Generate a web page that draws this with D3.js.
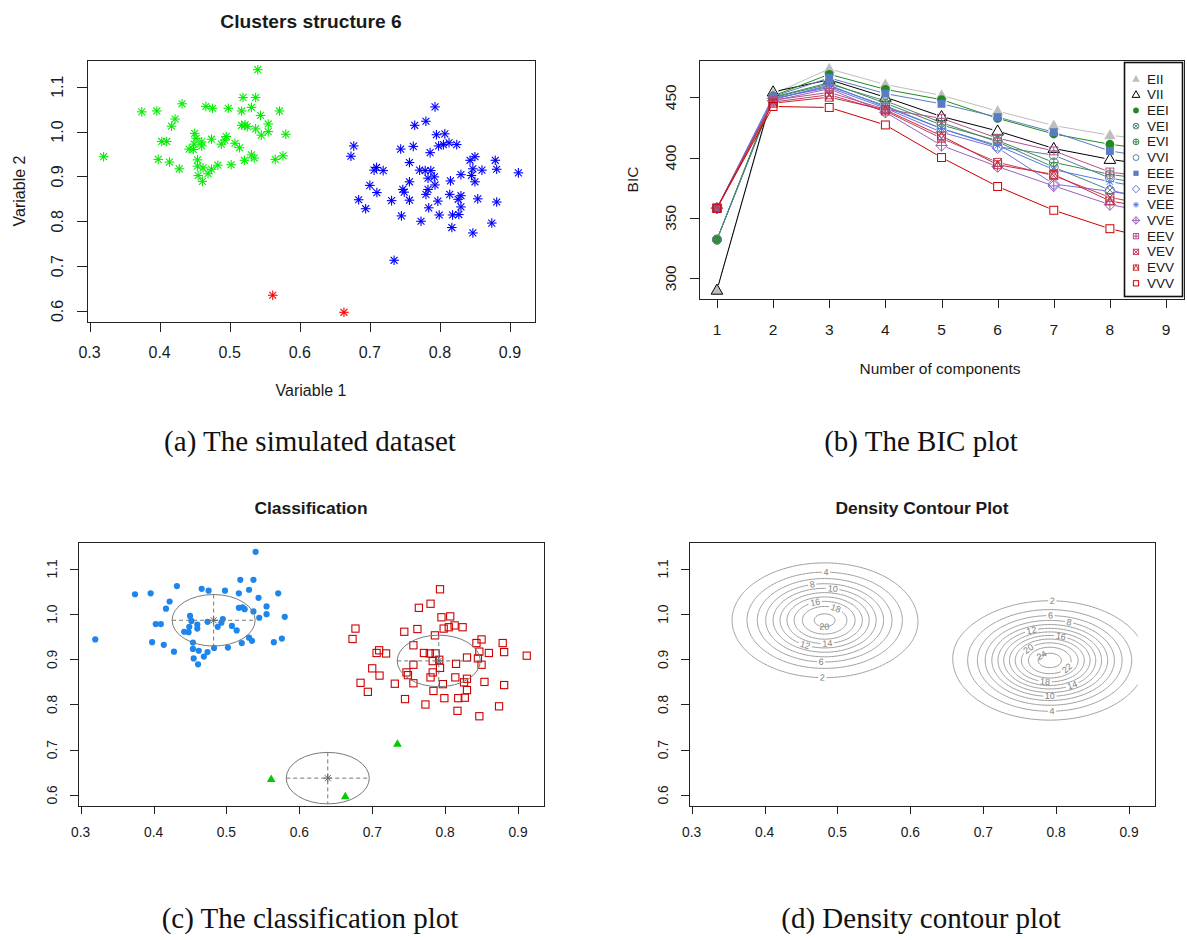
<!DOCTYPE html>
<html>
<head>
<meta charset="utf-8">
<script src="https://cdn.jsdelivr.net/npm/d3@7"></script>
<style>
  body { margin: 0; background: #fff; }
  svg text { font-family: "Liberation Sans", Arial, Helvetica, sans-serif; fill: #1a1a1a; }
  svg text.cap { font-family: "Liberation Serif", "Times New Roman", serif; fill: #111; }
</style>
</head>
<body>
<svg id="fig" width="1187" height="940"></svg>
<script>
// ---------------- data ----------------
// mclust class 1 (the upper-left group)
const c1x = [0.320,0.3745,0.396,0.432,0.422,0.417,0.403,0.410,0.398,0.414,0.428,0.450,0.452,0.449,0.442,0.448,0.460,0.460,0.454,0.454,0.462,0.455,0.461,0.469,0.474,0.466,0.4755,0.474,0.488,0.493,0.495,0.483,0.498,0.502,0.5075,0.514,0.517,0.519,0.537,0.531,0.540,0.517,0.522,0.525,0.537,0.544,0.545,0.555,0.555,0.521,0.531,0.535,0.571,0.580,0.565,0.576];
const c1y = [0.944,1.044,1.046,1.062,1.028,1.012,0.978,0.978,0.938,0.932,0.917,0.996,0.985,0.972,0.961,0.960,0.977,0.968,0.937,0.923,0.919,0.902,0.889,0.906,0.916,1.056,1.052,0.983,0.972,0.981,0.989,0.925,1.052,0.926,0.974,0.964,1.046,1.076,1.076,1.054,1.138,1.014,1.015,1.011,1.006,1.036,0.992,1.017,1.000,0.936,0.948,0.941,1.046,0.994,0.938,0.946];
// mclust class 2 (the right group)
const c2x = [0.677,0.673,0.684,0.694,0.700,0.706,0.7095,0.719,0.710,0.731,0.745,0.744,0.764,0.762,0.7565,0.7565,0.747,0.749,0.7565,0.780,0.793,0.786,0.771,0.779,0.787,0.783,0.792,0.793,0.783,0.780,0.784,0.773,0.795,0.798,0.807,0.805,0.813,0.824,0.797,0.799,0.815,0.814,0.817,0.818,0.827,0.826,0.830,0.830,0.830,0.843,0.850,0.847,0.845,0.850,0.860,0.854,0.847,0.874,0.879,0.881,0.881,0.912];
const c2y = [0.968,0.945,0.848,0.828,0.880,0.914,0.920,0.913,0.864,0.846,0.812,0.961,1.014,0.967,0.931,0.888,0.871,0.865,0.847,1.023,1.055,0.953,0.914,0.913,0.913,0.896,0.899,0.881,0.871,0.860,0.830,0.800,0.993,0.968,0.995,0.971,0.975,0.971,0.845,0.814,0.890,0.860,0.786,0.814,0.815,0.849,0.857,0.832,0.904,0.936,0.944,0.917,0.902,0.888,0.914,0.850,0.774,0.796,0.936,0.916,0.843,0.908];
// mclust class 3 (the small group at the bottom)
const c3x = [0.5614,0.663,0.7346];
const c3y = [0.635,0.597,0.713];
// simulated structure of the class-3 points ("red" group or "blue" group)
const c3Structure = ["red","red","blue"];

// fitted component centres and ellipse radius (data units)
const centreX = [0.4824, 0.7913, 0.639];
const centreY = [0.9864, 0.8965, 0.637];
const ellipseRadius = 0.057;

// density surface: mixture means, weights and common sd
const densMeanX = [0.4824, 0.7913, 0.639];
const densMeanY = [0.9864, 0.8975, 0.637];
const densWeight = [0.4475, 0.5409, 0.0116];
const densSigma = 0.0588;
const contourLevels = [2,4,6,8,10,12,14,16,18,20,22,24];
// contour labels: level, component, direction from centre (degrees)
const labLevel = [4,8,10,16,18,20,12,14,6,2,   2,6,8,12,16,20,24,22,18,14,10,4];
const labComp  = [0,0,0,0,0,0,0,0,0,0,         1,1,1,1,1,1,1,1,1,1,1,1];
const labAngle = [89,102,81,108,60,-92,-116,-86,-93,-91.5, 88.5,89.4,72.6,110.7,74,138.7,135,-35.7,-97.8,-60.6,-90,-88.4];

// BIC values by number of components
const components = [1,2,3,4,5,6,7,8,9];
const bicEII = [290.1,452.5,473.5,460.5,451.5,438.5,426.5,418.5,413];
const bicVII = [290.1,454.4,464.5,450,434,422,407.5,398.5,392];
const bicEEI = [332,451,469,456.5,448,432.5,419.5,411,405];
const bicVEI = [332,449.5,461,447,429,413,392,373,362];
const bicEVI = [332,450,462,445,427,414,396,386,380];
const bicVVI = [332,448.5,459,443,424,409,402,383,375];
const bicEEE = [358,450.5,466,453,444.5,433.5,421,405.5,398];
const bicEVE = [358,449,458,441,421,408,378,372,365];
const bicVEE = [358,448,460,442,424,410,390,380,372];
const bicVVE = [358,447,457,437.5,410,392.5,376.5,361,352];
const bicEEV = [358,447.5,454,440,432.5,416,405.5,388,382];
const bicVEV = [358,446,452,438.5,416,396,385,367,358];
const bicEVV = [358,445,450,439.5,418,394,386,364,356];
const bicVVV = [358,442.3,441.5,427,400,376,356.3,341,330];
const modelNames = ["EII","VII","EEI","VEI","EVI","VVI","EEE","EVE","VEE","VVE","EEV","VEV","EVV","VVV"];
const modelColors = ["#BEBEBE","#000000","#218B21","#508476","#41884F","#58819C","#597DC3","#716EE7","#5178EA","#9B60B8","#B2508B","#C03F60","#C82A36","#CC0000"];
const modelPch = [17,2,16,13,10,1,15,5,8,9,12,7,14,0];
const bicSeries = [bicEII,bicVII,bicEEI,bicVEI,bicEVI,bicVVI,bicEEE,bicEVE,bicVEE,bicVVE,bicEEV,bicVEV,bicEVV,bicVVV];

const ticks01 = [0.3,0.4,0.5,0.6,0.7,0.8,0.9];
const ticks02 = [0.6,0.7,0.8,0.9,1.0,1.1];
const bicTicks = [300,350,400,450];

// ---------------- helpers ----------------
const svg = d3.select("#fig");
const defs = svg.append("defs");
const pad4 = e => { const d = (e[1] - e[0]) * 0.04; return [e[0] - d, e[1] + d]; };

const allX = c1x.concat(c2x, c3x), allY = c1y.concat(c2y, c3y);
const domX = pad4(d3.extent(allX)), domY = pad4(d3.extent(allY));

function drawPch(g, pch, x, y, s, col, sw) {
  sw = sw || 1;
  const G = g.append("g").attr("transform", `translate(${x},${y})`);
  const ln = (a, b, c, d) => G.append("line").attr("x1", a).attr("y1", b).attr("x2", c).attr("y2", d)
    .attr("stroke", col).attr("stroke-width", sw);
  const t = s * 1.15;
  const tri = `M0,${-1.2*t}L${1.15*t},${0.8*t}L${-1.15*t},${0.8*t}Z`;
  const sq = q => G.append("rect").attr("x", -q).attr("y", -q).attr("width", 2*q).attr("height", 2*q);
  const q = s * 0.9;
  switch (pch) {
    case 0: sq(q).attr("fill", "none").attr("stroke", col).attr("stroke-width", sw); break;
    case 1: G.append("circle").attr("r", s).attr("fill", "none").attr("stroke", col).attr("stroke-width", sw); break;
    case 2: G.append("path").attr("d", tri).attr("fill", "none").attr("stroke", col).attr("stroke-width", sw); break;
    case 5: G.append("path").attr("d", `M0,${-1.3*s}L${1.3*s},0L0,${1.3*s}L${-1.3*s},0Z`).attr("fill", "none").attr("stroke", col).attr("stroke-width", sw); break;
    case 7: sq(q).attr("fill", "none").attr("stroke", col).attr("stroke-width", sw); ln(-q,-q,q,q); ln(-q,q,q,-q); break;
    case 8: { const a = s * 0.72; ln(-s,0,s,0); ln(0,-s,0,s); ln(-a,-a,a,a); ln(-a,a,a,-a); break; }
    case 9: G.append("path").attr("d", `M0,${-1.3*s}L${1.3*s},0L0,${1.3*s}L${-1.3*s},0Z`).attr("fill", "none").attr("stroke", col).attr("stroke-width", sw);
            ln(-1.3*s,0,1.3*s,0); ln(0,-1.3*s,0,1.3*s); break;
    case 10: G.append("circle").attr("r", s).attr("fill", "none").attr("stroke", col).attr("stroke-width", sw); ln(-s,0,s,0); ln(0,-s,0,s); break;
    case 12: sq(q).attr("fill", "none").attr("stroke", col).attr("stroke-width", sw); ln(-q,0,q,0); ln(0,-q,0,q); break;
    case 13: { G.append("circle").attr("r", s).attr("fill", "none").attr("stroke", col).attr("stroke-width", sw); const a = s*0.707; ln(-a,-a,a,a); ln(-a,a,a,-a); break; }
    case 14: sq(q).attr("fill", "none").attr("stroke", col).attr("stroke-width", sw);
             G.append("path").attr("d", `M${-q},${q}L0,${-q}L${q},${q}`).attr("fill", "none").attr("stroke", col).attr("stroke-width", sw); break;
    case 15: sq(q).attr("fill", col); break;
    case 16: G.append("circle").attr("r", s).attr("fill", col); break;
    case 17: G.append("path").attr("d", tri).attr("fill", col); break;
  }
}

// box, ticks and tick labels in the style of base graphics
function drawAxes(g, box, sx, sy, xt, yt, fx, fy, o) {
  g.append("rect").attr("x", box.x0 + 0.5).attr("y", box.y0 + 0.5)
    .attr("width", box.x1 - box.x0).attr("height", box.y1 - box.y0)
    .attr("fill", "none").attr("stroke", "#222").attr("stroke-width", 1);
  xt.forEach(v => {
    const x = Math.round(sx(v)) + 0.5;
    g.append("line").attr("x1", x).attr("x2", x).attr("y1", box.y1).attr("y2", box.y1 + o.tl)
      .attr("stroke", "#222");
    g.append("text").attr("x", sx(v)).attr("y", box.y1 + o.xoff).attr("text-anchor", "middle")
      .attr("dominant-baseline", "central").style("font-size", o.fs + "px").text(fx(v));
  });
  yt.forEach(v => {
    const y = Math.round(sy(v)) + 0.5;
    g.append("line").attr("x1", box.x0).attr("x2", box.x0 - o.tl).attr("y1", y).attr("y2", y)
      .attr("stroke", "#222");
    g.append("text").attr("transform", `translate(${box.x0 - o.yoff},${sy(v)}) rotate(-90)`)
      .attr("text-anchor", "middle").attr("dominant-baseline", "central")
      .style("font-size", o.fs + "px").text(fy(v));
  });
}
const f1 = d3.format(".1f"), f0 = d3.format("d");

function title(g, x, y, txt, fs) {
  g.append("text").attr("x", x).attr("y", y).attr("text-anchor", "middle")
    .attr("dominant-baseline", "central").style("font-size", fs + "px").style("font-weight", "bold").text(txt);
}
function caption(x, y, txt) {
  svg.append("text").attr("class", "cap").attr("x", x).attr("y", y).attr("text-anchor", "middle")
    .attr("dominant-baseline", "central").style("font-size", "29px").text(txt);
}

// ---------------- (a) simulated dataset ----------------
{
  const box = {x0: 87, y0: 60, x1: 535, y1: 322};
  const sx = d3.scaleLinear().domain(domX).range([box.x0, box.x1]);
  const sy = d3.scaleLinear().domain(domY).range([box.y1, box.y0]);
  const g = svg.append("g");
  const colOf = {green: "#00EE00", blue: "#0000FF", red: "#FF0000"};
  c1x.forEach((v, i) => drawPch(g, 8, sx(v), sy(c1y[i]), 4.8, colOf.green, 1.1));
  c2x.forEach((v, i) => drawPch(g, 8, sx(v), sy(c2y[i]), 4.8, colOf.blue, 1.1));
  c3x.forEach((v, i) => drawPch(g, 8, sx(v), sy(c3y[i]), 4.8, colOf[c3Structure[i]], 1.1));
  drawAxes(g, box, sx, sy, ticks01, ticks02, f1, f1, {fs: 16, tl: 10, xoff: 30, yoff: 30});
  title(g, (box.x0 + box.x1) / 2, 21, "Clusters structure 6", 19.2);
  g.append("text").attr("x", (box.x0 + box.x1) / 2).attr("y", 390).attr("text-anchor", "middle")
    .attr("dominant-baseline", "central").style("font-size", "16px").text("Variable 1");
  g.append("text").attr("transform", `translate(19,${(box.y0 + box.y1) / 2}) rotate(-90)`)
    .attr("text-anchor", "middle").attr("dominant-baseline", "central").style("font-size", "16px").text("Variable 2");
  caption(310, 441, "(a) The simulated dataset");
}

// ---------------- (b) BIC plot ----------------
{
  const box = {x0: 699, y0: 60, x1: 1184, y1: 299};
  const sx = d3.scaleLinear().domain(pad4(d3.extent(components))).range([box.x0, box.x1]);
  const sy = d3.scaleLinear().domain(pad4(d3.extent(bicSeries.flat()))).range([box.y1, box.y0]);
  const g = svg.append("g");
  const gap = 5.5;
  bicSeries.forEach((vals, m) => {
    const col = modelColors[m];
    const pts = vals.map((v, i) => [sx(components[i]), sy(v)]);
    for (let i = 0; i < pts.length - 1; i++) {
      const [xa, ya] = pts[i], [xb, yb] = pts[i + 1];
      const L = Math.hypot(xb - xa, yb - ya);
      if (L <= 2 * gap) continue;
      const ux = (xb - xa) / L, uy = (yb - ya) / L;
      g.append("line").attr("x1", xa + ux * gap).attr("y1", ya + uy * gap)
        .attr("x2", xb - ux * gap).attr("y2", yb - uy * gap)
        .attr("stroke", col).attr("stroke-width", 1);
    }
    pts.forEach(p => drawPch(g, modelPch[m], p[0], p[1], 4.4, col, 1));
  });
  drawAxes(g, box, sx, sy, components, bicTicks, f0, f0, {fs: 15.5, tl: 9, xoff: 30, yoff: 29});
  g.append("text").attr("x", 940).attr("y", 368).attr("text-anchor", "middle")
    .attr("dominant-baseline", "central").style("font-size", "15.5px").text("Number of components");
  g.append("text").attr("transform", `translate(632,${(box.y0 + box.y1) / 2}) rotate(-90)`)
    .attr("text-anchor", "middle").attr("dominant-baseline", "central").style("font-size", "15.5px").text("BIC");

  // legend
  const lg = {x0: 1124, y0: 62, x1: 1182, y1: 296};
  g.append("rect").attr("x", lg.x0 + 0.5).attr("y", lg.y0 + 0.5).attr("width", lg.x1 - lg.x0)
    .attr("height", lg.y1 - lg.y0).attr("fill", "#fff").attr("stroke", "#111").attr("stroke-width", 1.6);
  const rowY = d3.scaleLinear().domain([0, modelNames.length - 1]).range([79, 283.3]);
  modelNames.forEach((nm, m) => {
    drawPch(g, modelPch[m], 1136, rowY(m), 2.9, modelColors[m], 1);
    g.append("text").attr("x", 1147).attr("y", rowY(m)).attr("dominant-baseline", "central")
      .style("font-size", "13.5px").text(nm);
  });
  caption(921, 441, "(b) The BIC plot");
}

// ---------------- (c) classification ----------------
{
  const box = {x0: 78, y0: 542, x1: 544, y1: 806};
  const sx = d3.scaleLinear().domain(domX).range([box.x0, box.x1]);
  const sy = d3.scaleLinear().domain(domY).range([box.y1, box.y0]);
  const g = svg.append("g");
  c1x.forEach((v, i) => drawPch(g, 16, sx(v), sy(c1y[i]), 3.1, "#1C86EE", 1));
  c2x.forEach((v, i) => drawPch(g, 0, sx(v), sy(c2y[i]), 4.0, "#CD0000", 1.1));
  c3x.forEach((v, i) => drawPch(g, 17, sx(v), sy(c3y[i]), 3.3, "#00CD00", 1));
  centreX.forEach((cx, k) => {
    const cy = centreY[k];
    const px = sx(cx), py = sy(cy);
    const rx = sx(cx + ellipseRadius) - px, ry = py - sy(cy + ellipseRadius);
    g.append("ellipse").attr("cx", px).attr("cy", py).attr("rx", rx).attr("ry", ry)
      .attr("fill", "none").attr("stroke", "#7a7a7a").attr("stroke-width", 1);
    g.append("line").attr("x1", px - rx).attr("x2", px + rx).attr("y1", py).attr("y2", py)
      .attr("stroke", "#777").attr("stroke-dasharray", "4,3");
    g.append("line").attr("x1", px).attr("x2", px).attr("y1", py - ry).attr("y2", py + ry)
      .attr("stroke", "#777").attr("stroke-dasharray", "4,3");
    drawPch(g, 8, px, py, 4.2, "#666", 1);
  });
  drawAxes(g, box, sx, sy, ticks01, ticks02, f1, f1, {fs: 13.8, tl: 8, xoff: 26, yoff: 26});
  title(g, (box.x0 + box.x1) / 2, 508, "Classification", 17.4);
  caption(310, 918, "(c) The classification plot");
}

// ---------------- (d) density contours ----------------
{
  const box = {x0: 689, y0: 542, x1: 1155, y1: 806};
  const sx = d3.scaleLinear().domain(domX).range([box.x0, box.x1]);
  const sy = d3.scaleLinear().domain(domY).range([box.y1, box.y0]);
  const g = svg.append("g");
  const s2 = densSigma * densSigma;
  const peak = densWeight.map(w => w / (2 * Math.PI * s2));
  const density = (x, y) => d3.sum(densWeight, (w, k) =>
    peak[k] * Math.exp(-((x - densMeanX[k]) ** 2 + (y - densMeanY[k]) ** 2) / (2 * s2)));

  // evaluation grid (wider than the data so rings close outside the clip)
  const gx0 = 0.25, gy0 = 0.50, step = 0.002, n = 376, m = 376;
  const values = new Float64Array(n * m);
  for (let j = 0; j < m; j++) for (let i = 0; i < n; i++) values[i + j * n] = density(gx0 + i * step, gy0 + j * step);
  const polys = d3.contours().size([n, m]).thresholds(contourLevels)(values);
  const proj = d3.geoTransform({ point(x, y) { this.stream.point(sx(gx0 + (x - 0.5) * step), sy(gy0 + (y - 0.5) * step)); } });
  const path = d3.geoPath(proj);

  // the surface only spans the range of the data
  const ex = d3.extent(allX), ey = d3.extent(allY);
  defs.append("clipPath").attr("id", "dataRange").append("rect")
    .attr("x", sx(ex[0])).attr("y", sy(ey[1])).attr("width", sx(ex[1]) - sx(ex[0])).attr("height", sy(ey[0]) - sy(ey[1]));

  // label positions on each ring
  const kx = sx(1) - sx(0), ky = sy(0) - sy(1);
  const labs = labLevel.map((L, i) => {
    const k = labComp[i], th = labAngle[i] * Math.PI / 180;
    const r = Math.sqrt(2 * s2 * Math.log(peak[k] / L));
    const px = sx(densMeanX[k] + r * Math.cos(th)), py = sy(densMeanY[k] + r * Math.sin(th));
    let rot = Math.atan2(-Math.cos(th) * ky, -Math.sin(th) * kx) * 180 / Math.PI;
    if (rot > 90) rot -= 180;
    if (rot < -90) rot += 180;
    return {L, px, py, rot, w: String(L).length * 5.2 + 3, big: r * kx > 16};
  });

  contourLevels.forEach(L => {
    const mk = defs.append("mask").attr("id", "gap" + L).attr("maskUnits", "userSpaceOnUse")
      .attr("x", 0).attr("y", 0).attr("width", 1187).attr("height", 940);
    mk.append("rect").attr("width", 1187).attr("height", 940).attr("fill", "#fff");
    labs.filter(d => d.L === L && d.big).forEach(d => {
      mk.append("rect").attr("x", -d.w / 2).attr("y", -3.5).attr("width", d.w).attr("height", 7)
        .attr("transform", `translate(${d.px},${d.py}) rotate(${d.rot})`).attr("fill", "#000");
    });
  });

  const cg = g.append("g").attr("clip-path", "url(#dataRange)");
  polys.forEach(p => {
    cg.append("path").attr("d", path(p)).attr("fill", "none").attr("stroke", "#9a9a9a")
      .attr("stroke-width", 1).attr("mask", `url(#gap${p.value})`);
  });
  labs.forEach(d => {
    g.append("text").attr("transform", `translate(${d.px},${d.py}) rotate(${d.rot})`)
      .attr("text-anchor", "middle").attr("dominant-baseline", "central")
      .style("font-size", "9px").style("fill", "#808080").text(d.L);
  });

  drawAxes(g, box, sx, sy, ticks01, ticks02, f1, f1, {fs: 13.8, tl: 8, xoff: 26, yoff: 26});
  title(g, (box.x0 + box.x1) / 2, 508, "Density Contour Plot", 17.4);
  caption(921, 918, "(d) Density contour plot");
}
</script>
</body>
</html>
